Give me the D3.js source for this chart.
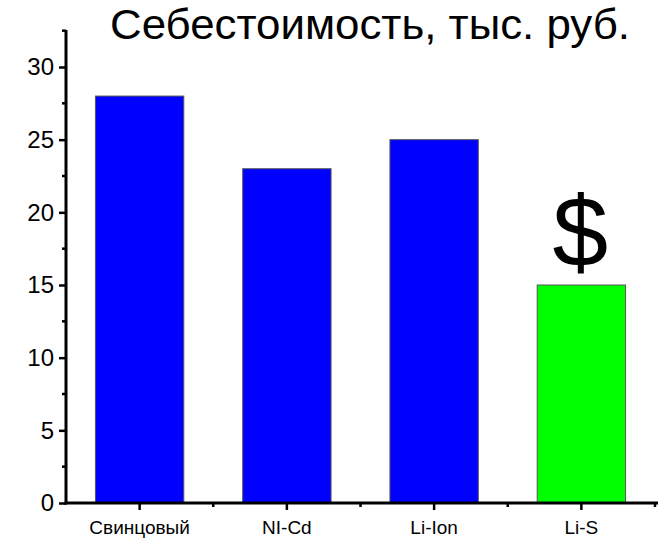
<!DOCTYPE html>
<html>
<head>
<meta charset="utf-8">
<script src="https://cdn.jsdelivr.net/npm/d3@7"></script>
<style>
  html, body { margin: 0; padding: 0; background: #fff; }
  svg { display: block; font-family: Arial, "Liberation Sans", sans-serif; }
</style>
</head>
<body>
<svg id="chart" width="662" height="540"></svg>
<script>
// Battery types and their cost, thousand rubles
const categories = ["Свинцовый", "NI-Cd", "Li-Ion", "Li-S"];
const costs = [28, 23, 25, 15];
const barColors = ["#0000ff", "#0000ff", "#0000ff", "#00ff00"];
const yTicks = [0, 5, 10, 15, 20, 25, 30];
const yMinorTicks = [2.5, 7.5, 12.5, 17.5, 22.5, 27.5, 32.5];
const title = "Себестоимость, тыс. руб.";

const svg = d3.select("#chart");
const plotLeft = 66, plotRight = 655, plotBottom = 503, plotTop = 30;

const x = d3.scaleBand().domain(categories).range([plotLeft, plotRight]).paddingInner(0.4).paddingOuter(0.2);
const y = d3.scaleLinear().domain([0, 30]).range([plotBottom, plotBottom - 436]);
const yTopValue = y.invert(plotTop);

// bars
svg.append("g").selectAll("rect")
  .data(categories)
  .join("rect")
  .attr("x", d => x(d))
  .attr("y", (d, i) => y(costs[i]))
  .attr("width", x.bandwidth())
  .attr("height", (d, i) => y(0) - y(costs[i]))
  .attr("fill", (d, i) => barColors[i])
  .attr("stroke", "#555")
  .attr("stroke-width", 1);

// y axis
const yAxis = d3.axisLeft(y).tickValues(yTicks).tickSize(7).tickPadding(5).tickSizeOuter(0);
const gy = svg.append("g").attr("transform", `translate(${plotLeft},0)`).call(yAxis);
gy.select(".domain").remove();
gy.append("line").attr("x1", 0).attr("x2", 0).attr("y1", y(yTopValue)).attr("y2", plotBottom + 1.5)
  .attr("stroke", "#000").attr("stroke-width", 3);
gy.selectAll(".tick line").attr("stroke", "#000").attr("stroke-width", 2.5);
gy.selectAll(".tick text").attr("font-size", 24).attr("fill", "#000").attr("font-family", "Arial, 'Liberation Sans', sans-serif");
gy.selectAll(".minor").data(yMinorTicks.filter(v => v < yTopValue)).join("line")
  .attr("class", "minor")
  .attr("x1", -4).attr("x2", 0)
  .attr("y1", d => y(d)).attr("y2", d => y(d))
  .attr("stroke", "#000").attr("stroke-width", 2.5);

// x axis
const xAxis = d3.axisBottom(x).tickSize(7).tickPadding(11).tickSizeOuter(0);
const gx = svg.append("g").attr("transform", `translate(0,${plotBottom})`).call(xAxis);
gx.select(".domain").remove();
gx.append("line").attr("x1", plotLeft - 1.5).attr("x2", plotRight + 3).attr("y1", 0).attr("y2", 0)
  .attr("stroke", "#000").attr("stroke-width", 3);
gx.selectAll(".tick line").attr("stroke", "#000").attr("stroke-width", 2.5);
gx.selectAll(".tick text").attr("font-size", 19).attr("fill", "#000").attr("font-family", "Arial, 'Liberation Sans', sans-serif");
const step = x.step();
const boundaries = categories.map(c => x(c) + x.bandwidth() / 2 + step / 2);
gx.selectAll(".minor").data(boundaries).join("line")
  .attr("class", "minor")
  .attr("x1", d => d).attr("x2", d => d)
  .attr("y1", 0).attr("y2", 4)
  .attr("stroke", "#000").attr("stroke-width", 2.5);

// title
svg.append("text")
  .attr("x", 110).attr("y", 39)
  .attr("font-size", 43)
  .attr("textLength", 520)
  .attr("lengthAdjust", "spacingAndGlyphs")
  .attr("fill", "#000")
  .text(title);

// dollar sign over the cheapest option
const last = categories[categories.length - 1];
svg.append("text")
  .attr("x", x(last) + x.bandwidth() / 2 - 1)
  .attr("y", y(costs[costs.length - 1]) - 19)
  .attr("text-anchor", "middle")
  .attr("font-size", 100)
  .attr("fill", "#000")
  .text("$");
</script>
</body>
</html>
